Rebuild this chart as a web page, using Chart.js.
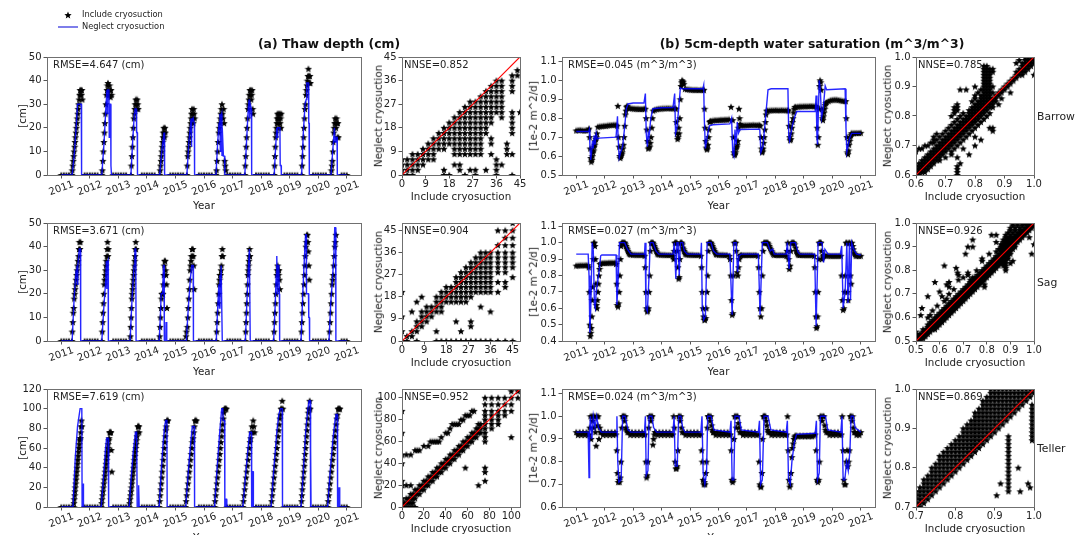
<!DOCTYPE html>
<html>
<head>
<meta charset="utf-8">
<script src="https://cdn.jsdelivr.net/npm/chart.js@4.4.1/dist/chart.umd.min.js"></script>
<style>
  body { margin: 0; background: #fff; width: 1077px; height: 535px; position: relative; overflow: hidden;
         font-family: "DejaVu Sans", sans-serif; color: #222; }
  canvas { position: absolute; }
  .t { position: absolute; white-space: nowrap; line-height: 1; }
  .c { transform: translate(-50%, -50%); }
  .r { transform: translate(-50%, -50%) rotate(-90deg); }
</style>
</head>
<body>
<script>
// ---------- tick labels ----------
const yearTicks = [2011, 2012, 2013, 2014, 2015, 2016, 2017, 2018, 2019, 2020, 2021];
const thawTicks50 = [0, 10, 20, 30, 40, 50];
const thawTicks120 = [0, 20, 40, 60, 80, 100, 120];
const satTicksBarrow = [0.5, 0.6, 0.7, 0.8, 0.9, 1.0, 1.1];
const satTicksSag = [0.4, 0.5, 0.6, 0.7, 0.8, 0.9, 1.0, 1.1];
const satTicksTeller = [0.6, 0.7, 0.8, 0.9, 1.0, 1.1];
const scatterTicks45 = [0, 9, 18, 27, 36, 45];
const scatterTicks100 = [0, 20, 40, 60, 80, 100];
const scatterTicksBarrow = [0.6, 0.7, 0.8, 0.9, 1.0];
const scatterTicksSag = [0.5, 0.6, 0.7, 0.8, 0.9, 1.0];
const scatterTicksTeller = [0.7, 0.8, 0.9, 1.0];

// ---------- thaw depth, include cryosuction: [start year, step, values] ----------
const barrowThawInc = [
  [2011.00, 0.09, [0, 0, 0, 0]],
  [2011.37, 0.016, [0, 2, 4, 6, 8, 10, 12, 14, 16, 18, 20, 22, 24, 26, 28, 30, 32, 34, 36, 34, 36, 34, 36, 32]],
  [2011.82, 0.09, [0, 0, 0, 0, 0, 0]],
  [2012.42, 0.018, [0, 2, 6, 10, 14, 18, 22, 26, 30, 34, 36, 38, 39, 36, 34, 38, 36, 33, 36, 34]],
  [2012.82, 0.09, [0, 0, 0, 0, 0, 0]],
  [2013.44, 0.017, [0, 4, 8, 12, 16, 20, 24, 26, 28, 30, 32, 30, 28, 32, 30, 28]],
  [2013.82, 0.09, [0, 0, 0, 0, 0, 0]],
  [2014.45, 0.014, [0, 2, 4, 6, 8, 10, 12, 14, 16, 18, 20, 18, 16, 20, 18]],
  [2014.82, 0.09, [0, 0, 0, 0, 0, 0]],
  [2015.40, 0.015, [0, 4, 8, 10, 12, 14, 16, 18, 20, 22, 24, 26, 28, 26, 24, 22, 28, 26, 24]],
  [2015.82, 0.09, [0, 0, 0, 0, 0, 0]],
  [2016.42, 0.019, [0, 2, 6, 10, 14, 18, 20, 22, 24, 26, 28, 30, 26, 24, 28, 22, 6, 4, 2]],
  [2016.82, 0.09, [0, 0, 0, 0, 0, 0]],
  [2017.43, 0.016, [0, 4, 8, 12, 16, 20, 24, 28, 30, 32, 34, 36, 34, 36, 32, 34, 36, 28, 26]],
  [2017.82, 0.09, [0, 0, 0, 0, 0, 0]],
  [2018.46, 0.013, [0, 4, 8, 12, 16, 18, 20, 22, 24, 26, 24, 22, 26, 24, 20, 26, 22, 24, 20, 26]],
  [2018.82, 0.09, [0, 0, 0, 0, 0, 0]],
  [2019.42, 0.017, [0, 4, 8, 12, 16, 20, 24, 28, 30, 34, 36, 38, 40, 42, 45, 42, 39, 42, 39]],
  [2019.82, 0.09, [0, 0, 0, 0, 0, 0]],
  [2020.45, 0.016, [0, 2, 4, 6, 10, 14, 18, 20, 22, 24, 22, 20, 24, 22, 16, 22, 16]],
  [2020.82, 0.09, [0, 0, 0]]
];
const sagThawInc = [
  [2011.00, 0.09, [0, 0, 0, 0]],
  [2011.37, 0.0167, [0, 4, 8, 12, 14, 18, 20, 22, 24, 26, 28, 30, 32, 34, 36, 39, 42, 39, 42]],
  [2011.82, 0.09, [0, 0, 0, 0, 0, 0]],
  [2012.42, 0.0144, [0, 4, 8, 12, 16, 20, 24, 26, 28, 30, 32, 34, 36, 39, 42, 36, 39]],
  [2012.82, 0.09, [0, 0, 0, 0, 0, 0]],
  [2013.41, 0.0124, [0, 2, 6, 10, 14, 18, 20, 22, 24, 26, 28, 30, 32, 34, 36, 39, 42, 39]],
  [2013.82, 0.09, [0, 0, 0, 0, 0, 0]],
  [2014.43, 0.016, [0, 2, 6, 10, 14, 18, 20, 20, 20, 24, 28, 32, 34, 34, 30, 28, 24, 14]],
  [2014.82, 0.09, [0, 0, 0, 0, 0, 0]],
  [2015.37, 0.016, [2, 4, 0, 6, 10, 14, 18, 22, 26, 30, 32, 34, 36, 39, 36, 39, 36, 32, 22]],
  [2015.82, 0.09, [0, 0, 0, 0, 0, 0]],
  [2016.43, 0.0164, [0, 4, 8, 12, 16, 20, 24, 26, 28, 28, 30, 32, 36, 39, 36]],
  [2016.82, 0.09, [0, 0, 0, 0, 0, 0]],
  [2017.45, 0.0123, [0, 4, 8, 12, 16, 20, 24, 28, 30, 32, 34, 36, 39, 36]],
  [2017.82, 0.09, [0, 0, 0, 0, 0, 0]],
  [2018.44, 0.0157, [0, 4, 8, 12, 16, 20, 24, 28, 30, 32, 30, 28, 30, 26, 22]],
  [2018.82, 0.09, [0, 0, 0, 0, 0, 0]],
  [2019.40, 0.017, [0, 4, 8, 12, 16, 20, 24, 28, 32, 36, 40, 42, 45, 45, 42, 38, 32, 26]],
  [2019.82, 0.09, [0, 0, 0, 0, 0, 0]],
  [2020.38, 0.0185, [0, 4, 8, 12, 16, 20, 24, 26, 28, 32, 36, 40, 42, 45]],
  [2020.82, 0.09, [0, 0, 0]]
];
const tellerThawInc = [
  [2011.00, 0.09, [0, 0, 0, 0, 0]],
  [2011.43, 0.0126, [0, 4, 8, 12, 16, 20, 24, 28, 32, 36, 40, 44, 48, 52, 56, 60, 64, 68, 70, 70, 76, 82, 88, 82]],
  [2011.82, 0.09, [0, 0, 0, 0, 0, 0]],
  [2012.40, 0.0154, [0, 4, 8, 12, 16, 20, 24, 28, 32, 36, 40, 44, 48, 52, 56, 60, 64, 68, 70, 76, 76, 76, 76, 58, 36]],
  [2012.82, 0.09, [0, 0, 0, 0, 0, 0]],
  [2013.38, 0.0152, [0, 4, 8, 12, 16, 20, 24, 28, 32, 36, 40, 44, 48, 52, 56, 60, 64, 68, 72, 76, 82, 82, 82, 76]],
  [2013.82, 0.09, [0, 0, 0, 0, 0, 0]],
  [2014.43, 0.018, [0, 6, 12, 18, 24, 30, 36, 42, 48, 54, 60, 66, 72, 78, 82, 88, 88, 88]],
  [2014.82, 0.09, [0, 0, 0, 0, 0, 0]],
  [2015.35, 0.0224, [0, 6, 12, 18, 24, 30, 36, 42, 48, 54, 60, 66, 70, 76, 82, 88, 88, 88]],
  [2015.82, 0.09, [0, 0, 0, 0, 0, 0]],
  [2016.37, 0.0205, [0, 6, 12, 18, 24, 30, 36, 42, 48, 54, 60, 66, 72, 78, 84, 90, 96, 100, 100, 100, 100]],
  [2016.82, 0.09, [0, 0, 0, 0, 0, 0]],
  [2017.36, 0.0228, [0, 6, 12, 18, 24, 30, 36, 42, 48, 54, 60, 66, 70, 76, 82, 76, 88, 82, 76]],
  [2017.82, 0.09, [0, 0, 0, 0, 0, 0]],
  [2018.35, 0.0205, [0, 6, 12, 18, 24, 30, 36, 42, 48, 54, 60, 66, 72, 78, 84, 90, 94, 100, 100, 108, 100]],
  [2018.82, 0.09, [0, 0, 0, 0, 0, 0]],
  [2019.40, 0.016, [0, 6, 12, 18, 24, 30, 36, 42, 48, 54, 60, 66, 72, 78, 84, 90, 96, 100, 100, 108, 100]],
  [2019.82, 0.09, [0, 0, 0, 0, 0, 0]],
  [2020.33, 0.0215, [0, 6, 12, 18, 24, 30, 36, 42, 48, 54, 60, 66, 72, 78, 84, 90, 94, 100, 100, 100, 100]],
  [2020.82, 0.09, [0, 0, 0]]
];

// ---------- thaw depth, neglect cryosuction: [year, cm] ----------
const barrowThawNeg = [
  [2011.00, 0], [2011.38, 0], [2011.45, 8], [2011.52, 20], [2011.57, 30], [2011.70, 30], [2011.705, 10], [2011.71, 30], [2011.72, 0],
  [2012.42, 0], [2012.50, 14], [2012.56, 28], [2012.60, 36], [2012.61, 26], [2012.62, 36], [2012.67, 36], [2012.68, 16], [2012.69, 30], [2012.73, 30], [2012.74, 4], [2012.76, 0],
  [2013.44, 0], [2013.50, 14], [2013.56, 26], [2013.58, 28], [2013.63, 28], [2013.64, 18], [2013.66, 18], [2013.67, 0],
  [2014.45, 0], [2014.52, 10], [2014.58, 16], [2014.60, 18], [2014.62, 0],
  [2015.40, 0], [2015.47, 14], [2015.52, 20], [2015.55, 24], [2015.56, 12], [2015.57, 22], [2015.62, 24], [2015.66, 22], [2015.67, 0],
  [2016.42, 0], [2016.48, 14], [2016.53, 22], [2016.56, 26], [2016.57, 10], [2016.58, 24], [2016.62, 26], [2016.63, 8], [2016.64, 20], [2016.68, 8], [2016.72, 8], [2016.73, 0],
  [2017.43, 0], [2017.49, 14], [2017.55, 28], [2017.58, 32], [2017.60, 24], [2017.62, 30], [2017.66, 28], [2017.67, 0],
  [2018.46, 0], [2018.51, 12], [2018.55, 20], [2018.57, 16], [2018.58, 20], [2018.66, 20], [2018.67, 4], [2018.70, 4], [2018.71, 0],
  [2019.42, 0], [2019.48, 18], [2019.54, 30], [2019.58, 32], [2019.60, 39], [2019.66, 39], [2019.67, 22], [2019.68, 22], [2019.69, 0],
  [2020.45, 0], [2020.52, 12], [2020.57, 20], [2020.59, 14], [2020.62, 16], [2020.66, 16], [2020.67, 0], [2021.00, 0]
];
const sagThawNeg = [
  [2011.00, 0], [2011.38, 0], [2011.45, 18], [2011.52, 30], [2011.55, 32], [2011.56, 24], [2011.58, 32], [2011.63, 39], [2011.67, 39], [2011.68, 0],
  [2012.42, 0], [2012.50, 16], [2012.56, 26], [2012.58, 34], [2012.59, 22], [2012.60, 32], [2012.64, 34], [2012.65, 0],
  [2013.41, 0], [2013.48, 18], [2013.55, 32], [2013.58, 39], [2013.61, 39], [2013.62, 0],
  [2014.43, 0], [2014.47, 10], [2014.50, 20], [2014.55, 20], [2014.58, 32], [2014.60, 32], [2014.61, 0], [2014.66, 0], [2014.67, 8], [2014.69, 8], [2014.70, 0],
  [2015.38, 0], [2015.45, 14], [2015.52, 26], [2015.57, 32], [2015.62, 32], [2015.63, 0],
  [2016.43, 0], [2016.48, 14], [2016.52, 24], [2016.54, 14], [2016.56, 28], [2016.58, 20], [2016.60, 32], [2016.63, 32], [2016.64, 0],
  [2017.45, 0], [2017.50, 16], [2017.55, 30], [2017.59, 39], [2017.61, 39], [2017.62, 0],
  [2018.44, 0], [2018.49, 14], [2018.53, 28], [2018.55, 36], [2018.57, 20], [2018.58, 32], [2018.62, 32], [2018.64, 20], [2018.65, 0],
  [2019.40, 0], [2019.46, 20], [2019.52, 36], [2019.56, 45], [2019.58, 45], [2019.59, 20], [2019.66, 20], [2019.67, 10], [2019.69, 10], [2019.70, 0],
  [2020.38, 0], [2020.44, 16], [2020.50, 26], [2020.55, 36], [2020.58, 48], [2020.61, 48], [2020.62, 0], [2021.00, 0]
];
const tellerThawNeg = [
  [2011.00, 0], [2011.41, 0], [2011.49, 50], [2011.57, 82], [2011.66, 100], [2011.72, 100], [2011.73, 0], [2011.77, 0], [2011.775, 24], [2011.78, 0],
  [2012.40, 0], [2012.48, 30], [2012.55, 60], [2012.59, 70], [2012.64, 70], [2012.66, 0],
  [2013.38, 0], [2013.45, 30], [2013.52, 56], [2013.60, 76], [2013.64, 76], [2013.66, 0], [2013.69, 0], [2013.70, 22], [2013.72, 22], [2013.73, 0],
  [2014.43, 0], [2014.50, 36], [2014.57, 66], [2014.62, 82], [2014.66, 88], [2014.70, 88], [2014.71, 0],
  [2015.36, 0], [2015.45, 36], [2015.53, 64], [2015.59, 82], [2015.66, 82], [2015.67, 0],
  [2016.37, 0], [2016.45, 36], [2016.55, 76], [2016.62, 100], [2016.66, 100], [2016.67, 88], [2016.72, 88], [2016.73, 0], [2016.76, 0], [2016.77, 8], [2016.79, 8], [2016.80, 0],
  [2017.36, 0], [2017.45, 30], [2017.53, 56], [2017.60, 76], [2017.66, 76], [2017.67, 0], [2017.70, 0], [2017.71, 36], [2017.72, 36], [2017.73, 0],
  [2018.35, 0], [2018.45, 40], [2018.55, 76], [2018.62, 94], [2018.68, 100], [2018.74, 100], [2018.75, 0],
  [2019.40, 0], [2019.48, 36], [2019.56, 76], [2019.64, 100], [2019.68, 108], [2019.72, 108], [2019.73, 0], [2019.74, 60], [2019.75, 0],
  [2020.33, 0], [2020.42, 36], [2020.52, 70], [2020.60, 90], [2020.62, 94], [2020.67, 94], [2020.68, 0], [2020.72, 0], [2020.73, 20], [2020.75, 20], [2020.76, 0], [2021.00, 0]
];

// ---------- 5cm saturation, include cryosuction: [start year, step, values] ----------
const barrowSatInc = [
  [2011.00, 0.07, [0.735, 0.737, 0.738, 0.736, 0.735, 0.736, 0.737]],
  [2011.45, 0.02, [0.745, 0.70, 0.64, 0.59, 0.57, 0.58, 0.60, 0.62, 0.63, 0.65, 0.66, 0.68, 0.69, 0.70, 0.72]],
  [2011.76, 0.07, [0.755, 0.757, 0.758, 0.760, 0.760, 0.762, 0.763, 0.764, 0.765, 0.765]],
  [2012.44, 0.022, [0.76, 0.865, 0.70, 0.65, 0.60, 0.59, 0.60, 0.61, 0.62, 0.64, 0.66, 0.70, 0.76, 0.82, 0.84, 0.86, 0.865]],
  [2012.82, 0.07, [0.855, 0.853, 0.852, 0.851, 0.850, 0.850, 0.849, 0.849, 0.850]],
  [2013.43, 0.025, [0.85, 0.80, 0.74, 0.68, 0.64, 0.645, 0.65, 0.67, 0.70, 0.75, 0.80, 0.84]],
  [2013.76, 0.07, [0.845, 0.848, 0.850, 0.851, 0.852, 0.852, 0.853, 0.853, 0.852, 0.852, 0.853]],
  [2014.50, 0.02, [0.85, 0.78, 0.72, 0.69, 0.70, 0.75, 0.72, 0.80, 0.90, 0.97, 0.99, 1.0, 0.995, 0.99, 0.98]],
  [2014.82, 0.07, [0.955, 0.953, 0.952, 0.951, 0.950, 0.950, 0.950, 0.949, 0.950, 0.950]],
  [2015.49, 0.02, [0.95, 0.85, 0.75, 0.68, 0.645, 0.635, 0.64, 0.66, 0.70, 0.74, 0.78, 0.785]],
  [2015.74, 0.07, [0.786, 0.788, 0.790, 0.790, 0.791, 0.792, 0.792, 0.793, 0.793, 0.794, 0.860]],
  [2016.50, 0.02, [0.79, 0.70, 0.62, 0.605, 0.61, 0.62, 0.64, 0.65, 0.66, 0.68, 0.75, 0.85, 0.80, 0.77]],
  [2016.80, 0.07, [0.762, 0.762, 0.763, 0.763, 0.764, 0.764, 0.765, 0.764, 0.764, 0.765]],
  [2017.47, 0.02, [0.76, 0.70, 0.64, 0.62, 0.625, 0.64, 0.67, 0.70, 0.74, 0.78, 0.82, 0.84]],
  [2017.73, 0.07, [0.840, 0.841, 0.842, 0.842, 0.843, 0.842, 0.842, 0.843, 0.842, 0.842, 0.843]],
  [2018.46, 0.02, [0.84, 0.76, 0.70, 0.684, 0.69, 0.72, 0.75, 0.78, 0.80, 0.83, 0.85, 0.86]],
  [2018.72, 0.07, [0.860, 0.861, 0.862, 0.862, 0.863, 0.863, 0.863, 0.864, 0.864, 0.863, 0.864]],
  [2019.45, 0.02, [0.86, 0.75, 0.66, 0.70, 0.85, 0.97, 1.0, 0.99, 0.95, 0.85, 0.80, 0.79, 0.81, 0.83, 0.85, 0.87, 0.88]],
  [2019.80, 0.07, [0.885, 0.890, 0.895, 0.897, 0.898, 0.898, 0.896, 0.894, 0.892, 0.891]],
  [2020.47, 0.02, [0.89, 0.80, 0.70, 0.62, 0.61, 0.63, 0.66, 0.68, 0.70, 0.71, 0.72]],
  [2020.70, 0.06, [0.720, 0.721, 0.722, 0.722, 0.722, 0.723]]
];
const sagSatInc = [
  [2011.00, 0.07, [0.860, 0.861, 0.862, 0.862, 0.862, 0.863, 0.862]],
  [2011.44, 0.018, [0.85, 0.70, 0.50, 0.43, 0.45, 0.48, 0.55, 0.65, 0.73, 0.90, 1.0, 1.0, 0.98, 0.90, 0.75, 0.62, 0.60, 0.65, 0.70, 0.75, 0.80, 0.84, 0.87]],
  [2011.87, 0.07, [0.875, 0.876, 0.877, 0.877, 0.878, 0.878, 0.878, 0.879]],
  [2012.40, 0.022, [0.87, 0.75, 0.62, 0.61, 0.63, 0.70, 0.80, 0.90, 0.98, 1.0, 1.0, 1.0, 1.0, 1.0, 1.0, 0.99, 0.98, 0.97, 0.96, 0.95, 0.94, 0.935, 0.93]],
  [2012.92, 0.07, [0.928, 0.927, 0.927, 0.926, 0.926, 0.926, 0.926]],
  [2013.40, 0.023, [0.92, 0.85, 0.70, 0.60, 0.58, 0.585, 0.60, 0.70, 0.80, 0.95, 1.0, 1.0, 1.0, 1.0, 0.99, 0.98, 0.97, 0.96, 0.95, 0.94, 0.93]],
  [2013.90, 0.07, [0.928, 0.927, 0.926, 0.926, 0.925, 0.925, 0.925]],
  [2014.40, 0.022, [0.92, 0.90, 0.95, 1.0, 1.0, 1.0, 1.0, 0.95, 0.85, 0.78, 0.79, 0.90, 1.0, 1.0, 1.0, 0.99, 0.97, 0.96, 0.95, 0.94, 0.93]],
  [2014.88, 0.07, [0.928, 0.927, 0.926, 0.926, 0.925, 0.925, 0.925]],
  [2015.38, 0.024, [0.92, 0.85, 0.70, 0.60, 0.55, 0.53, 0.53, 0.54, 0.60, 0.70, 0.80, 0.95, 1.0, 1.0, 1.0, 1.0, 0.99, 0.98, 0.97, 0.96, 0.95, 0.94, 0.93]],
  [2015.94, 0.07, [0.928, 0.927, 0.926, 0.926, 0.925, 0.925]],
  [2016.38, 0.025, [0.92, 0.90, 0.80, 0.65, 0.56, 0.57, 0.80, 1.0, 1.0, 1.0, 0.95, 0.82, 0.80, 0.85, 0.90, 0.92, 0.925]],
  [2016.82, 0.07, [0.925, 0.925, 0.924, 0.925, 0.925, 0.924, 0.925, 0.925]],
  [2017.38, 0.027, [0.92, 0.85, 0.70, 0.60, 0.55, 0.60, 0.80, 0.95, 1.0, 1.0, 1.0, 1.0, 1.0, 1.0, 0.99, 0.98, 0.97, 0.96, 0.95, 0.94, 0.93]],
  [2017.96, 0.07, [0.925, 0.925, 0.924, 0.925, 0.925, 0.924]],
  [2018.38, 0.027, [0.92, 0.95, 1.0, 0.90, 0.84, 0.86, 0.95, 1.0, 1.0, 1.0, 1.0, 0.99, 0.97, 0.95, 0.94, 0.93, 0.925]],
  [2018.86, 0.07, [0.925, 0.925, 0.924, 0.924, 0.924, 0.924, 0.924]],
  [2019.36, 0.02, [0.92, 0.85, 0.70, 0.55, 0.48, 0.49, 0.55, 0.70, 0.90, 1.0, 1.0, 1.0, 1.0, 0.95, 0.90, 0.91, 0.92, 0.925]],
  [2019.74, 0.07, [0.922, 0.921, 0.921, 0.920, 0.920, 0.920, 0.920, 0.920]],
  [2020.30, 0.026, [0.92, 0.80, 0.65, 0.59, 0.60, 0.70, 0.80, 1.0, 1.0, 0.70, 0.65, 1.0, 1.0, 0.80, 0.75, 1.0, 0.98, 0.96, 0.94, 0.93]],
  [2020.82, 0.06, [0.920, 0.920, 0.919, 0.920]]
];
const tellerSatInc = [
  [2011.00, 0.06, [0.93, 0.918, 0.93, 0.918, 0.93, 0.918, 0.93, 0.918]],
  [2011.45, 0.025, [0.92, 0.95, 1.0, 0.90, 1.0, 0.98, 1.0, 0.95, 1.0, 0.93, 0.87, 1.0, 0.96, 1.0, 0.90, 0.95, 0.93]],
  [2011.88, 0.06, [0.93, 0.918, 0.93, 0.918, 0.93, 0.918, 0.93, 0.918, 0.93]],
  [2012.40, 0.025, [0.92, 0.85, 0.75, 0.71, 0.72, 0.71, 0.73, 0.80, 0.95, 1.0, 1.0, 1.0, 0.98, 1.0, 0.95, 0.94, 0.93]],
  [2012.84, 0.06, [0.93, 0.918, 0.93, 0.918, 0.93, 0.918, 0.93, 0.918, 0.93, 0.918]],
  [2013.42, 0.025, [0.92, 0.80, 0.73, 0.74, 0.80, 0.95, 1.0, 1.0, 0.98, 1.0, 1.0, 0.875, 0.90, 0.92, 0.93]],
  [2013.80, 0.06, [0.93, 0.918, 0.93, 0.918, 0.93, 0.918, 0.93, 0.918, 0.93, 0.918]],
  [2014.40, 0.025, [0.92, 1.0, 0.95, 0.80, 0.77, 0.77, 0.78, 0.85, 1.0, 1.0, 0.98, 1.0, 0.95, 0.93]],
  [2014.78, 0.06, [0.93, 0.918, 0.93, 0.918, 0.93, 0.918, 0.93, 0.918, 0.93, 0.918]],
  [2015.38, 0.025, [0.92, 0.85, 0.80, 0.72, 0.70, 0.71, 0.70, 0.75, 0.80, 0.95, 1.0, 1.0, 1.0, 0.98, 1.0, 0.96, 0.94, 0.93]],
  [2015.84, 0.06, [0.93, 0.918, 0.93, 0.918, 0.93, 0.918, 0.93, 0.918, 0.93, 0.918]],
  [2016.42, 0.025, [0.92, 0.85, 0.72, 0.71, 0.72, 0.90, 1.0, 1.0, 0.95, 1.0, 1.0, 0.97, 0.95, 0.93]],
  [2016.80, 0.06, [0.93, 0.918, 0.93, 0.918, 0.93, 0.918, 0.93, 0.918, 0.93, 0.918]],
  [2017.40, 0.025, [0.92, 0.80, 0.70, 0.69, 0.69, 0.75, 0.90, 1.0, 1.0, 1.0, 1.0, 0.98, 0.96, 0.94, 0.93]],
  [2017.80, 0.06, [0.93, 0.918, 0.93, 0.918, 0.93, 0.918, 0.93, 0.918, 0.93, 0.918]],
  [2018.40, 0.025, [0.92, 1.0, 0.85, 0.72, 0.69, 0.70, 0.75, 0.82, 0.86, 0.88, 0.90, 0.91, 0.915]],
  [2018.74, 0.06, [0.915, 0.912, 0.915, 0.912, 0.915, 0.912, 0.915, 0.912, 0.915, 0.912, 0.915]],
  [2019.40, 0.03, [0.92, 0.85, 0.72, 0.71, 0.72, 0.80, 1.0, 1.0, 0.98, 1.0, 1.0, 0.96, 0.94, 0.93]],
  [2019.84, 0.06, [0.93, 0.918, 0.93, 0.918, 0.93, 0.918, 0.93, 0.918]],
  [2020.32, 0.028, [0.92, 1.0, 0.85, 0.72, 0.70, 0.70, 0.80, 0.85, 0.78, 0.80, 0.85, 1.0, 1.0, 0.98, 1.0, 0.95, 0.93]],
  [2020.80, 0.05, [0.93, 0.918, 0.93, 0.918, 0.93]]
];

// ---------- 5cm saturation, neglect cryosuction: [year, value] ----------
const barrowSatNeg = [
  [2011.00, 0.73], [2011.44, 0.73], [2011.46, 0.74], [2011.48, 0.66], [2011.51, 0.58], [2011.54, 0.62], [2011.57, 0.68], [2011.60, 0.64],
  [2011.63, 0.71], [2011.66, 0.66], [2011.70, 0.72], [2011.74, 0.69], [2011.80, 0.695], [2012.40, 0.70], [2012.45, 0.81], [2012.47, 0.70],
  [2012.51, 0.59], [2012.56, 0.62], [2012.63, 0.65], [2012.70, 0.75], [2012.76, 0.85], [2012.82, 0.875], [2013.00, 0.88], [2013.38, 0.88],
  [2013.43, 0.93], [2013.46, 0.72], [2013.50, 0.65], [2013.53, 0.72], [2013.56, 0.70], [2013.62, 0.80], [2013.70, 0.85], [2014.00, 0.855],
  [2014.40, 0.856], [2014.46, 0.93], [2014.49, 0.72], [2014.54, 0.75], [2014.60, 0.85], [2014.66, 0.96], [2014.72, 0.955], [2015.45, 0.955],
  [2015.48, 0.975], [2015.50, 0.80], [2015.54, 0.64], [2015.60, 0.70], [2015.68, 0.76], [2015.80, 0.765], [2016.40, 0.77], [2016.46, 0.80],
  [2016.50, 0.62], [2016.54, 0.60], [2016.58, 0.74], [2016.62, 0.66], [2016.66, 0.78], [2016.70, 0.72], [2016.76, 0.74], [2017.45, 0.742],
  [2017.49, 0.62], [2017.56, 0.65], [2017.64, 0.78], [2017.74, 0.95], [2017.85, 0.955], [2018.44, 0.955], [2018.47, 0.70], [2018.50, 0.68],
  [2018.58, 0.75], [2018.66, 0.80], [2018.75, 0.835], [2019.40, 0.835], [2019.43, 0.92], [2019.46, 0.70], [2019.48, 0.66], [2019.54, 1.0],
  [2019.58, 0.95], [2019.62, 0.80], [2019.68, 0.85], [2019.75, 0.97], [2019.80, 0.95], [2020.45, 0.955], [2020.48, 0.75], [2020.51, 0.62],
  [2020.56, 0.66], [2020.62, 0.70], [2020.68, 0.72], [2021.00, 0.72]
];
const sagSatNeg = [
  [2011.00, 0.93], [2011.42, 0.93], [2011.45, 0.80], [2011.48, 0.45], [2011.51, 0.60], [2011.53, 0.75], [2011.56, 1.0], [2011.60, 0.95],
  [2011.64, 0.62], [2011.67, 0.60], [2011.70, 0.70], [2011.75, 0.76], [2011.80, 0.82], [2011.86, 0.92], [2011.90, 0.925], [2012.40, 0.925],
  [2012.43, 0.62], [2012.48, 0.80], [2012.52, 1.0], [2012.70, 1.0], [2012.80, 0.96], [2012.92, 0.93], [2013.40, 0.93], [2013.42, 1.0],
  [2013.45, 0.60], [2013.50, 0.58], [2013.56, 0.80], [2013.60, 1.0], [2013.70, 1.0], [2013.80, 0.95], [2013.90, 0.93], [2014.40, 0.93],
  [2014.45, 1.0], [2014.50, 0.78], [2014.54, 1.0], [2014.58, 1.0], [2014.62, 0.80], [2014.66, 1.0], [2014.74, 1.0], [2014.80, 0.95],
  [2014.90, 0.93], [2015.38, 0.93], [2015.40, 1.0], [2015.43, 0.60], [2015.48, 0.53], [2015.54, 0.55], [2015.60, 1.0], [2015.74, 1.0],
  [2015.82, 0.95], [2015.94, 0.93], [2016.40, 0.93], [2016.48, 0.56], [2016.54, 1.0], [2016.62, 1.0], [2016.67, 0.82], [2016.72, 0.92],
  [2016.80, 0.93], [2017.40, 0.93], [2017.46, 0.56], [2017.54, 1.0], [2017.72, 1.0], [2017.82, 0.95], [2017.90, 0.96], [2017.96, 0.93],
  [2018.38, 0.93], [2018.42, 1.0], [2018.48, 0.84], [2018.54, 1.0], [2018.70, 1.0], [2018.80, 0.94], [2018.86, 0.93], [2019.38, 0.93],
  [2019.43, 0.49], [2019.50, 1.0], [2019.64, 1.0], [2019.69, 0.88], [2019.74, 0.96], [2019.85, 0.93], [2020.28, 0.93], [2020.33, 0.98],
  [2020.38, 0.60], [2020.45, 0.70], [2020.51, 1.0], [2020.55, 0.63], [2020.60, 1.0], [2020.64, 0.65], [2020.68, 1.0], [2020.75, 0.96],
  [2020.85, 0.93], [2021.00, 0.925]
];
const tellerSatNeg = [
  [2011.00, 0.93], [2011.42, 0.93], [2011.45, 0.73], [2011.47, 0.93], [2011.50, 1.0], [2011.55, 0.90], [2011.60, 1.0], [2011.66, 0.95],
  [2011.72, 1.0], [2011.78, 0.95], [2011.88, 0.93], [2012.40, 0.93], [2012.43, 1.0], [2012.46, 0.80], [2012.50, 0.71], [2012.58, 0.72],
  [2012.63, 1.0], [2012.72, 1.0], [2012.82, 0.94], [2012.92, 0.93], [2013.40, 0.93], [2013.43, 1.0], [2013.46, 0.74], [2013.52, 0.76],
  [2013.56, 1.0], [2013.66, 1.0], [2013.72, 0.95], [2013.82, 0.93], [2014.40, 0.93], [2014.44, 1.0], [2014.48, 0.78], [2014.55, 0.78],
  [2014.60, 1.0], [2014.68, 1.0], [2014.74, 0.95], [2014.82, 0.93], [2015.38, 0.93], [2015.42, 1.0], [2015.46, 0.75], [2015.52, 0.70],
  [2015.58, 0.75], [2015.62, 1.0], [2015.74, 1.0], [2015.84, 0.94], [2016.40, 0.93], [2016.44, 0.98], [2016.48, 0.72], [2016.54, 0.72],
  [2016.58, 1.0], [2016.72, 1.0], [2016.80, 0.94], [2017.40, 0.93], [2017.44, 0.98], [2017.48, 0.70], [2017.54, 0.72], [2017.60, 1.0],
  [2017.74, 1.0], [2017.84, 0.94], [2018.38, 0.93], [2018.42, 0.98], [2018.46, 0.72], [2018.52, 0.70], [2018.58, 0.80], [2018.66, 0.88],
  [2018.74, 0.92], [2019.40, 0.925], [2019.44, 0.98], [2019.48, 0.72], [2019.54, 0.75], [2019.58, 1.0], [2019.76, 1.0], [2019.84, 0.94],
  [2020.30, 0.93], [2020.34, 1.0], [2020.38, 0.72], [2020.44, 0.72], [2020.50, 0.80], [2020.56, 0.76], [2020.62, 0.85], [2020.66, 1.0],
  [2020.74, 1.0], [2020.80, 0.95], [2021.00, 0.93]
];

// ---------- scatter (include on x, neglect on y): [neglect value, include values] ----------
const barrowThawScatter = [
  [0, [0, 2, 4, 16, 18, 24, 28, 36, 42]], [2, [0, 2, 4, 6, 16, 22, 26, 28, 32, 36]], [4, [0, 2, 4, 6, 8, 20, 22, 36, 38]],
  [6, [0, 2, 4, 6, 8, 10, 12, 36]], [8, [4, 6, 8, 10, 12, 20, 22, 24, 26, 28, 30, 34, 40, 42]],
  [10, [8, 10, 12, 14, 16, 20, 22, 24, 26, 28, 30, 40]], [12, [10, 12, 14, 16, 18, 20, 22, 24, 26, 28, 30, 34, 40]],
  [14, [12, 14, 16, 18, 20, 22, 24, 26, 28, 30, 34]], [16, [14, 16, 18, 20, 22, 24, 26, 28, 30, 32, 42]],
  [18, [16, 18, 20, 22, 24, 26, 28, 30, 32, 42]], [20, [18, 20, 22, 24, 26, 28, 30, 32, 34, 42]],
  [22, [20, 22, 24, 26, 28, 30, 32, 34, 38, 42]], [24, [22, 24, 26, 28, 30, 32, 34, 36, 38, 42, 45]],
  [26, [24, 26, 28, 30, 32, 34, 36, 38]], [28, [26, 28, 30, 32, 34, 36, 38]], [30, [30, 32, 34, 36, 38]],
  [32, [32, 34, 36, 38, 42]], [34, [34, 36, 38, 42]], [36, [36, 38, 42]], [38, [42, 44]], [40, [44]]
];
const sagThawScatter = [
  [0, [0, 2, 6, 14, 16, 18, 20, 22, 24, 26, 28, 30, 32, 34, 36, 39, 42, 45]], [2, [2, 4]], [4, [0, 4, 6, 14, 24]],
  [6, [6, 8, 28]], [8, [6, 8, 10, 22, 28]], [10, [0, 8, 10, 12]], [12, [4, 8, 10, 12, 14, 16, 36]],
  [14, [10, 12, 14, 16, 32]], [16, [6, 14, 16, 18, 20, 22, 24, 26]], [18, [8, 14, 16, 18, 20, 22, 24, 26, 28]],
  [20, [0, 16, 18, 20, 22, 24, 26, 28, 30, 32, 34, 36, 39]], [22, [18, 20, 22, 24, 26, 28, 30, 32, 34, 36, 42]],
  [24, [22, 24, 26, 28, 30, 32, 34, 36, 39, 42]], [26, [22, 24, 26, 28, 30, 32, 34, 36, 45]],
  [28, [24, 26, 28, 30, 32, 34, 36, 39, 42]], [30, [26, 28, 30, 32, 34, 36, 39, 42, 45]],
  [32, [28, 30, 32, 34, 36, 39, 42, 45]], [34, [30, 32, 34, 36, 39, 42, 45]], [36, [32, 34, 36, 39, 42, 45]],
  [39, [39, 42, 45]], [42, [42, 45]], [45, [39, 42, 45]], [48, [45]]
];
const tellerThawScatter = [
  [0, [0, 2, 4, 6, 8, 10, 12]], [4, [0, 2, 4, 6, 8, 10]], [8, [0, 4, 6, 8, 10, 12]], [12, [8, 10, 12, 14, 16]],
  [16, [12, 14, 16, 18, 20]], [20, [0, 4, 8, 16, 18, 20, 22, 24, 70]], [24, [0, 20, 22, 24, 26, 28, 76]],
  [28, [24, 26, 28, 30, 32]], [32, [28, 30, 32, 34, 36, 76]], [36, [32, 34, 36, 38, 40, 58, 76]],
  [40, [0, 36, 38, 40, 42, 44]], [44, [40, 42, 44, 46, 48]], [48, [0, 4, 8, 44, 46, 48, 50, 52]],
  [52, [12, 14, 16, 48, 50, 52, 54, 56]], [56, [20, 24, 52, 54, 56, 58, 60]],
  [60, [26, 28, 30, 32, 34, 56, 58, 60, 62, 64, 76]], [64, [36, 60, 62, 64, 66, 68, 76, 100]],
  [68, [0, 40, 42, 64, 66, 68, 70, 72, 76]], [72, [44, 68, 70, 72, 76, 82]], [76, [46, 48, 50, 52, 70, 72, 76, 82, 88]],
  [80, [54, 56, 76, 82, 88]], [84, [58, 60, 62, 76, 82, 88, 94]], [88, [0, 64, 66, 76, 82, 88, 94, 100]],
  [94, [76, 82, 88, 94, 100]], [100, [76, 82, 88, 94, 100, 106]], [106, [100, 106]]
];
const barrowSatScatter = [
  [0.60, [0.60, 0.61, 0.74]], [0.61, [0.60, 0.61, 0.62, 0.63, 0.74]], [0.62, [0.60, 0.61, 0.62, 0.63, 0.64, 0.74]],
  [0.63, [0.60, 0.61, 0.62, 0.63, 0.64, 0.65, 0.74]], [0.64, [0.61, 0.62, 0.63, 0.64, 0.65, 0.66, 0.75]],
  [0.65, [0.62, 0.63, 0.64, 0.65, 0.66, 0.67, 0.68]], [0.66, [0.63, 0.64, 0.65, 0.66, 0.67, 0.68, 0.70, 0.74]],
  [0.67, [0.64, 0.65, 0.66, 0.67, 0.68, 0.69, 0.72, 0.78]], [0.68, [0.60, 0.65, 0.66, 0.67, 0.68, 0.69, 0.70, 0.72]],
  [0.69, [0.61, 0.62, 0.66, 0.67, 0.68, 0.69, 0.70, 0.71, 0.73, 0.76]], [0.70, [0.63, 0.64, 0.67, 0.68, 0.69, 0.70, 0.71, 0.72, 0.74, 0.80]],
  [0.71, [0.65, 0.66, 0.68, 0.69, 0.70, 0.71, 0.72, 0.73, 0.75]], [0.72, [0.66, 0.67, 0.69, 0.70, 0.71, 0.72, 0.73, 0.74, 0.76, 0.82]],
  [0.73, [0.66, 0.68, 0.70, 0.71, 0.72, 0.73, 0.74, 0.75, 0.77, 0.80]], [0.74, [0.67, 0.69, 0.71, 0.72, 0.73, 0.74, 0.75, 0.76, 0.78]],
  [0.75, [0.70, 0.72, 0.73, 0.74, 0.75, 0.76, 0.77, 0.79, 0.86]], [0.76, [0.71, 0.73, 0.74, 0.75, 0.76, 0.77, 0.78, 0.80, 0.85, 0.86]],
  [0.77, [0.72, 0.74, 0.75, 0.76, 0.77, 0.78, 0.79, 0.81]], [0.78, [0.73, 0.75, 0.76, 0.77, 0.78, 0.79, 0.80, 0.82]],
  [0.79, [0.74, 0.76, 0.77, 0.78, 0.79, 0.80, 0.81, 0.83]], [0.80, [0.72, 0.75, 0.77, 0.78, 0.79, 0.80, 0.81, 0.82, 0.84]],
  [0.81, [0.73, 0.76, 0.78, 0.79, 0.80, 0.81, 0.82, 0.83, 0.85]], [0.82, [0.73, 0.74, 0.78, 0.79, 0.80, 0.81, 0.82, 0.83, 0.84]],
  [0.83, [0.73, 0.74, 0.79, 0.80, 0.81, 0.82, 0.83, 0.84, 0.85, 0.86]], [0.84, [0.74, 0.80, 0.81, 0.82, 0.83, 0.84, 0.85, 0.86, 0.88]],
  [0.85, [0.79, 0.81, 0.82, 0.83, 0.84, 0.85, 0.86, 0.87]], [0.86, [0.80, 0.82, 0.83, 0.84, 0.85, 0.86, 0.87, 0.89]],
  [0.87, [0.80, 0.82, 0.83, 0.84, 0.85, 0.87, 0.88]], [0.88, [0.81, 0.83, 0.84, 0.85, 0.86, 0.88, 0.89, 0.92]],
  [0.89, [0.75, 0.77, 0.82, 0.83, 0.84, 0.85, 0.89, 0.90]], [0.90, [0.80, 0.83, 0.84, 0.85, 0.86, 0.90, 0.91]],
  [0.91, [0.83, 0.84, 0.85, 0.91, 0.92]], [0.92, [0.83, 0.84, 0.85, 0.92, 0.93]], [0.93, [0.83, 0.84, 0.85, 0.93, 0.94]],
  [0.94, [0.83, 0.84, 0.85, 0.94, 0.95, 0.96, 1.0]], [0.95, [0.83, 0.84, 0.85, 0.86, 0.94, 0.95, 0.96, 0.97]],
  [0.96, [0.83, 0.84, 0.85, 0.86, 0.95, 0.96, 0.97, 0.98]], [0.97, [0.83, 0.84, 0.96, 0.97, 0.98, 0.99]],
  [0.98, [0.94, 0.96, 0.97, 0.98, 0.99, 1.0]], [0.99, [0.95, 0.97, 0.98, 0.99, 1.0]], [1.00, [0.97, 0.98, 0.99, 1.0]]
];
const sagSatScatter = [
  [0.50, [0.50, 0.51]], [0.51, [0.50, 0.51, 0.52, 0.53]], [0.52, [0.50, 0.51, 0.52, 0.53, 0.54]],
  [0.53, [0.50, 0.515, 0.52, 0.53, 0.54, 0.55]], [0.54, [0.50, 0.53, 0.54, 0.55, 0.56]], [0.55, [0.53, 0.54, 0.55, 0.56, 0.57, 0.58]],
  [0.56, [0.55, 0.56, 0.57, 0.58, 0.59]], [0.57, [0.55, 0.56, 0.57, 0.58, 0.59, 0.60]], [0.58, [0.56, 0.57, 0.58, 0.59, 0.60, 0.61]],
  [0.59, [0.57, 0.58, 0.59, 0.60, 0.61, 0.62]], [0.60, [0.55, 0.58, 0.59, 0.60, 0.61, 0.62, 0.63]],
  [0.61, [0.52, 0.56, 0.59, 0.60, 0.61, 0.62, 0.63, 0.64]], [0.62, [0.60, 0.61, 0.62, 0.63, 0.64, 0.65]],
  [0.63, [0.57, 0.61, 0.62, 0.63, 0.64, 0.65, 0.66]], [0.64, [0.525, 0.62, 0.63, 0.64, 0.65, 0.66, 0.67]],
  [0.65, [0.59, 0.63, 0.64, 0.65, 0.66, 0.67, 0.68]], [0.66, [0.64, 0.65, 0.66, 0.67, 0.68, 0.69]],
  [0.67, [0.62, 0.65, 0.66, 0.67, 0.68, 0.69, 0.70]], [0.68, [0.63, 0.66, 0.67, 0.68, 0.69, 0.70, 0.71]],
  [0.69, [0.55, 0.61, 0.67, 0.68, 0.69, 0.70, 0.71, 0.72]], [0.70, [0.64, 0.68, 0.69, 0.70, 0.71, 0.72, 0.73]],
  [0.71, [0.60, 0.69, 0.70, 0.71, 0.72, 0.73, 0.74]], [0.72, [0.66, 0.70, 0.71, 0.72, 0.73, 0.74, 0.75]],
  [0.73, [0.64, 0.71, 0.72, 0.73, 0.74, 0.75, 0.76, 0.79]], [0.74, [0.63, 0.72, 0.73, 0.74, 0.75, 0.76, 0.77, 0.79]],
  [0.75, [0.58, 0.64, 0.73, 0.74, 0.75, 0.76, 0.77, 0.78]], [0.76, [0.68, 0.73, 0.74, 0.75, 0.76, 0.77, 0.78, 0.79]],
  [0.77, [0.70, 0.74, 0.75, 0.76, 0.77, 0.78, 0.79, 0.80]], [0.78, [0.68, 0.72, 0.76, 0.77, 0.78, 0.79, 0.80, 0.81]],
  [0.79, [0.676, 0.72, 0.77, 0.78, 0.79, 0.80, 0.81, 0.82]], [0.80, [0.757, 0.78, 0.79, 0.80, 0.81, 0.82, 0.83, 0.88]],
  [0.81, [0.67, 0.79, 0.80, 0.81, 0.82, 0.83, 0.84, 0.88]], [0.82, [0.62, 0.80, 0.81, 0.82, 0.83, 0.84, 0.85, 0.87, 0.88]],
  [0.83, [0.81, 0.82, 0.83, 0.84, 0.85, 0.86, 0.87, 0.88, 0.90]], [0.84, [0.78, 0.82, 0.83, 0.84, 0.85, 0.86, 0.87, 0.88, 0.91]],
  [0.85, [0.78, 0.83, 0.84, 0.85, 0.86, 0.87, 0.88, 0.89]], [0.86, [0.84, 0.85, 0.86, 0.87, 0.88, 0.89]],
  [0.87, [0.71, 0.81, 0.85, 0.86, 0.87, 0.88, 0.89, 0.90, 0.99]], [0.88, [0.84, 0.86, 0.87, 0.88, 0.89, 0.90]],
  [0.89, [0.85, 0.86, 0.87, 0.88, 0.89, 0.90, 0.91]], [0.90, [0.72, 0.74, 0.86, 0.87, 0.88, 0.89, 0.90, 0.91, 0.92]],
  [0.91, [0.86, 0.87, 0.88, 0.89, 0.90, 0.91, 0.92, 1.0]], [0.92, [0.84, 0.87, 0.88, 0.89, 0.90, 0.91, 0.92, 0.93]],
  [0.93, [0.74, 0.87, 0.88, 0.89, 0.90, 0.91, 0.92, 0.93, 0.94]], [0.94, [0.88, 0.89, 0.90, 0.91, 0.92, 0.93, 0.94, 0.95, 0.98]],
  [0.95, [0.82, 0.84, 0.88, 0.90, 0.92, 0.93, 0.94, 0.95, 0.96]], [0.96, [0.89, 0.91, 0.93, 0.94, 0.95, 0.96, 0.97]],
  [0.97, [0.90, 0.92, 0.94, 0.95, 0.96, 0.97, 0.98]], [0.98, [0.90, 0.92, 0.94, 0.96, 0.97, 0.98, 0.99]],
  [0.99, [0.91, 0.93, 0.95, 0.97, 0.98, 0.99, 1.0]], [1.00, [0.91, 0.93, 0.95, 0.96, 0.97, 0.98, 0.99, 1.0]]
];
const tellerSatScatter = [
  [0.70, [0.70, 0.705, 0.71]], [0.71, [0.70, 0.71, 0.72]], [0.72, [0.70, 0.71, 0.72, 0.73]],
  [0.73, [0.70, 0.71, 0.72, 0.73, 0.74, 0.905]], [0.74, [0.70, 0.71, 0.72, 0.73, 0.74, 0.75, 0.935, 0.965]],
  [0.75, [0.71, 0.72, 0.73, 0.74, 0.75, 0.76, 0.935, 0.99]], [0.76, [0.72, 0.73, 0.74, 0.75, 0.76, 0.77, 0.915, 0.935, 0.985]],
  [0.77, [0.72, 0.73, 0.74, 0.75, 0.76, 0.77, 0.78, 0.935]], [0.78, [0.73, 0.74, 0.75, 0.76, 0.77, 0.78, 0.79, 0.935]],
  [0.79, [0.74, 0.75, 0.76, 0.77, 0.78, 0.79, 0.80, 0.935]], [0.80, [0.74, 0.75, 0.76, 0.77, 0.78, 0.79, 0.80, 0.81, 0.935, 0.96]],
  [0.81, [0.75, 0.76, 0.77, 0.78, 0.79, 0.80, 0.81, 0.82, 0.935]], [0.82, [0.76, 0.77, 0.78, 0.79, 0.80, 0.81, 0.82, 0.83, 0.935]],
  [0.83, [0.76, 0.77, 0.78, 0.79, 0.80, 0.81, 0.82, 0.83, 0.84, 0.935]], [0.84, [0.77, 0.78, 0.79, 0.80, 0.81, 0.82, 0.83, 0.84, 0.85, 0.935]],
  [0.85, [0.78, 0.79, 0.80, 0.81, 0.82, 0.83, 0.84, 0.85, 0.86, 0.935]], [0.86, [0.79, 0.80, 0.81, 0.82, 0.83, 0.84, 0.85, 0.86, 0.87, 0.935]],
  [0.87, [0.80, 0.81, 0.82, 0.83, 0.84, 0.85, 0.86, 0.87, 0.88, 0.935, 0.995]], [0.88, [0.81, 0.82, 0.83, 0.84, 0.85, 0.86, 0.87, 0.88, 0.89, 0.935, 0.995]],
  [0.89, [0.82, 0.83, 0.84, 0.85, 0.86, 0.87, 0.88, 0.89, 0.90, 0.995]], [0.90, [0.82, 0.83, 0.84, 0.85, 0.86, 0.87, 0.88, 0.89, 0.90, 0.91, 0.995]],
  [0.91, [0.83, 0.84, 0.85, 0.86, 0.87, 0.88, 0.89, 0.90, 0.91, 0.92, 0.995]], [0.92, [0.84, 0.85, 0.86, 0.87, 0.88, 0.89, 0.90, 0.91, 0.92, 0.93, 0.995]],
  [0.93, [0.85, 0.86, 0.87, 0.88, 0.89, 0.90, 0.91, 0.92, 0.93, 0.94, 0.995]], [0.94, [0.85, 0.86, 0.87, 0.88, 0.89, 0.90, 0.91, 0.92, 0.93, 0.94, 0.95, 0.995]],
  [0.95, [0.86, 0.87, 0.88, 0.89, 0.90, 0.91, 0.92, 0.93, 0.94, 0.95, 0.96, 0.995]], [0.96, [0.87, 0.88, 0.89, 0.90, 0.91, 0.92, 0.93, 0.94, 0.95, 0.96, 0.97, 0.995]],
  [0.97, [0.87, 0.88, 0.89, 0.90, 0.91, 0.92, 0.93, 0.94, 0.95, 0.96, 0.97, 0.98]], [0.98, [0.88, 0.89, 0.90, 0.91, 0.92, 0.93, 0.94, 0.95, 0.96, 0.97, 0.98, 0.99]],
  [0.99, [0.89, 0.90, 0.91, 0.92, 0.93, 0.94, 0.95, 0.96, 0.97, 0.98, 0.99, 1.0]], [1.00, [0.89, 0.90, 0.91, 0.92, 0.93, 0.94, 0.95, 0.96, 0.97, 0.98, 0.99, 1.0]]
];

// ---------- helpers ----------
const FONT = '"DejaVu Sans", sans-serif';
const LINE_BLUE = 'rgba(0, 0, 255, 0.85)';

function fromSegments(list) {
  const out = [];
  list.forEach(([t0, dt, vals]) => vals.forEach((v, i) => out.push({ x: t0 + i * dt, y: v })));
  return out;
}
function fromPairs(list) { return list.map(([x, y]) => ({ x, y })); }
function fromRows(list) {
  const out = [];
  list.forEach(([y, xs]) => xs.forEach(x => out.push({ x, y })));
  return out;
}

// filled five point star, like matplotlib '*'
function makeStar(size) {
  const c = document.createElement('canvas');
  c.width = c.height = size;
  const g = c.getContext('2d');
  const r = size / 2 - 0.2, ri = r * 0.45, cx = size / 2, cy = size / 2 + 0.4;
  g.beginPath();
  for (let k = 0; k < 10; k++) {
    const a = -Math.PI / 2 + k * Math.PI / 5;
    const rr = k % 2 ? ri : r;
    g.lineTo(cx + rr * Math.cos(a), cy + rr * Math.sin(a));
  }
  g.closePath();
  g.fillStyle = '#000';
  g.fill();
  return c;
}
const STAR = makeStar(8);

const frame = {
  id: 'frame',
  afterDraw(chart) {
    const a = chart.chartArea, ctx = chart.ctx;
    ctx.save();
    ctx.strokeStyle = '#707070';
    ctx.lineWidth = 1;
    ctx.strokeRect(Math.round(a.left) + 0.5, Math.round(a.top) + 0.5, Math.round(a.right - a.left), Math.round(a.bottom - a.top));
    ctx.restore();
  }
};

function axis(min, max, ticks, fmt, horizontal, rotate) {
  return {
    type: 'linear', min, max,
    afterBuildTicks: s => { s.ticks = ticks.map(v => ({ value: v })); },
    afterFit: s => {
      if (horizontal) s.height = 32; else s.width = 40;
      s.paddingLeft = s.paddingRight = s.paddingTop = s.paddingBottom = 0;
    },
    ticks: {
      autoSkip: false, color: '#222', font: { family: FONT, size: 10 }, padding: horizontal ? 0 : 2,
      minRotation: rotate ? 20 : 0, maxRotation: rotate ? 20 : 0, labelOffset: rotate ? 12 : 0,
      callback: fmt
    },
    grid: { display: true, drawOnChartArea: false, drawTicks: true, tickLength: 3.5, color: '#555' },
    border: { display: false }
  };
}

function panel(box, datasets, xAxis, yAxis) {
  const PL = 40, PT = 8, PR = 14, PB = 32;
  const c = document.createElement('canvas');
  const w = box.w + PL + PR, h = box.h + PT + PB;
  c.width = w; c.height = h;
  c.style.left = (box.l - PL) + 'px'; c.style.top = (box.t - PT) + 'px';
  c.style.width = w + 'px'; c.style.height = h + 'px';
  document.body.appendChild(c);
  new Chart(c, {
    type: 'scatter',
    data: { datasets },
    options: {
      responsive: false, animation: false, devicePixelRatio: 1, events: [],
      layout: { padding: { top: PT, right: PR, left: 0, bottom: 0 } },
      plugins: { legend: { display: false }, tooltip: { enabled: false } },
      scales: { x: xAxis, y: yAxis }
    },
    plugins: [frame]
  });
}

function text(str, x, y, cls, size, extra) {
  const d = document.createElement('div');
  d.className = 't ' + (cls || '');
  d.textContent = str;
  d.style.left = x + 'px'; d.style.top = y + 'px';
  d.style.fontSize = size + 'px';
  if (extra) Object.assign(d.style, extra);
  document.body.appendChild(d);
}

const starSet = data => ({ data, pointStyle: STAR, pointRadius: 4, showLine: false, order: 2, clip: 0 });
const blueLine = data => ({ data, showLine: true, borderColor: LINE_BLUE, borderWidth: 1.4, pointRadius: 0, order: 1, clip: 0 });
const redLine = (a, b) => ({ data: [{ x: a, y: a }, { x: b, y: b }], showLine: true, borderColor: '#ff0000', borderWidth: 1.2, pointRadius: 0, order: 0, clip: 0 });

const int = v => String(v);
const one = v => v.toFixed(1);

const COLS = [{ l: 47, w: 314 }, { l: 402, w: 118 }, { l: 562, w: 313 }, { l: 916, w: 118 }];
const ROWS = [
  { t: 57, name: 'Barrow',
    thawInc: barrowThawInc, thawNeg: barrowThawNeg, thawMax: 50, thawTicks: thawTicks50, rmseT: 'RMSE=4.647 (cm)',
    scT: barrowThawScatter, scTMax: 45, scTTicks: scatterTicks45, nnseT: 'NNSE=0.852',
    satInc: barrowSatInc, satNeg: barrowSatNeg, satMin: 0.5, satMax: 1.123, satTicks: satTicksBarrow, rmseS: 'RMSE=0.045 (m^3/m^3)',
    scS: barrowSatScatter, scSMin: 0.6, scSTicks: scatterTicksBarrow, nnseS: 'NNSE=0.785' },
  { t: 223, name: 'Sag',
    thawInc: sagThawInc, thawNeg: sagThawNeg, thawMax: 50, thawTicks: thawTicks50, rmseT: 'RMSE=3.671 (cm)',
    scT: sagThawScatter, scTMax: 48, scTTicks: scatterTicks45, nnseT: 'NNSE=0.904',
    satInc: sagSatInc, satNeg: sagSatNeg, satMin: 0.4, satMax: 1.12, satTicks: satTicksSag, rmseS: 'RMSE=0.027 (m^3/m^3)',
    scS: sagSatScatter, scSMin: 0.5, scSTicks: scatterTicksSag, nnseS: 'NNSE=0.926' },
  { t: 389, name: 'Teller',
    thawInc: tellerThawInc, thawNeg: tellerThawNeg, thawMax: 120, thawTicks: thawTicks120, rmseT: 'RMSE=7.619 (cm)',
    scT: tellerThawScatter, scTMax: 108, scTTicks: scatterTicks100, nnseT: 'NNSE=0.952',
    satInc: tellerSatInc, satNeg: tellerSatNeg, satMin: 0.6, satMax: 1.12, satTicks: satTicksTeller, rmseS: 'RMSE=0.024 (m^3/m^3)',
    scS: tellerSatScatter, scSMin: 0.7, scSTicks: scatterTicksTeller, nnseS: 'NNSE=0.869' }
];

ROWS.forEach(r => {
  const H = 118, box = c => ({ l: COLS[c].l, w: COLS[c].w, t: r.t, h: H });

  panel(box(0), [blueLine(fromPairs(r.thawNeg)), starSet(fromSegments(r.thawInc))],
    axis(2010.5, 2021.5, yearTicks, int, true, true), axis(0, r.thawMax, r.thawTicks, int, false));
  panel(box(1), [redLine(0, r.scTMax), starSet(fromRows(r.scT))],
    axis(0, r.scTMax, r.scTTicks, int, true), axis(0, r.scTMax, r.scTTicks, int, false));
  panel(box(2), [blueLine(fromPairs(r.satNeg)), starSet(fromSegments(r.satInc))],
    axis(2010.5, 2021.5, yearTicks, int, true, true), axis(r.satMin, r.satMax, r.satTicks, one, false));
  panel(box(3), [redLine(r.scSMin, 1.0), starSet(fromRows(r.scS))],
    axis(r.scSMin, 1.0, r.scSTicks, one, true), axis(r.scSMin, 1.0, r.scSTicks, one, false));

  // axis titles and notes
  text('[cm]', 22, r.t + 59, 'r', 10.3);
  text('Year', COLS[0].l + COLS[0].w / 2, r.t + 148, 'c', 10.3);
  text('Neglect cryosuction', 378, r.t + 59, 'r', 10.3);
  text('Include cryosuction', COLS[1].l + COLS[1].w / 2, r.t + 139, 'c', 10.3);
  text('[1e-2 m^2/d]', 533, r.t + 59, 'r', 10.3);
  text('Year', COLS[2].l + COLS[2].w / 2, r.t + 148, 'c', 10.3);
  text('Neglect cryosuction', 887, r.t + 59, 'r', 10.3);
  text('Include cryosuction', COLS[3].l + COLS[3].w / 2, r.t + 139, 'c', 10.3);
  text(r.rmseT, COLS[0].l + 6, r.t + 3, '', 10);
  text(r.nnseT, COLS[1].l + 2, r.t + 3, '', 10);
  text(r.rmseS, COLS[2].l + 6, r.t + 3, '', 10);
  text(r.nnseS, COLS[3].l + 2, r.t + 3, '', 10);
  text(r.name, 1037, r.t + 55, '', 10.8);
});

// titles and legend
text('(a) Thaw depth (cm)', 329, 44, 'c', 12.4, { fontWeight: 'bold', color: '#111' });
text('(b) 5cm-depth water saturation (m^3/m^3)', 812, 44, 'c', 12.4, { fontWeight: 'bold', color: '#111' });

const legendStar = document.createElement('canvas');
legendStar.width = legendStar.height = 8;
legendStar.style.left = '64px'; legendStar.style.top = '11px';
legendStar.getContext('2d').drawImage(STAR, 0, 0);
document.body.appendChild(legendStar);
text('Include cryosuction', 82, 10, '', 8.3);
const legendLine = document.createElement('div');
legendLine.style.cssText = 'position:absolute;left:58px;top:26px;width:20px;height:1.5px;background:rgba(40,40,220,0.6);';
document.body.appendChild(legendLine);
text('Neglect cryosuction', 82, 22, '', 8.3);
</script>
</body>
</html>
